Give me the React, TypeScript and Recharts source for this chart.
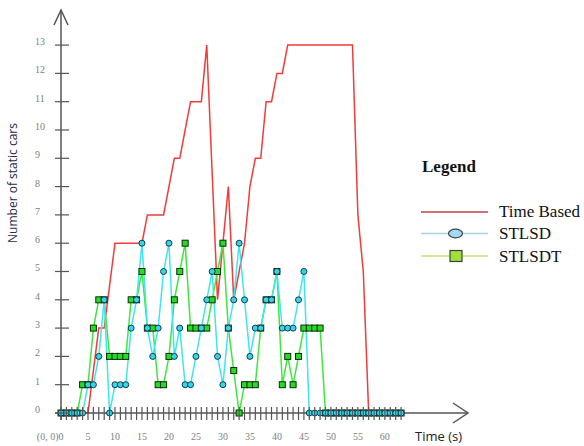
import React from 'react';
import { LineChart, Line, XAxis, YAxis, Legend } from 'recharts';

// time in seconds
const times = [
  0, 1, 2, 3, 4, 5, 6, 7, 8, 9, 10, 11, 12, 13, 14, 15, 16, 17, 18, 19, 20,
  21, 22, 23, 24, 25, 26, 27, 28, 29, 30, 31, 32, 33, 34, 35, 36, 37, 38, 39, 40,
  41, 42, 43, 44, 45, 46, 47, 48, 49, 50, 51, 52, 53, 54, 55, 56, 57, 58, 59, 60,
  61, 62, 63,
];

// Time Based (t = 0..57)
const timeBased = [
  0, 0, 0, 0, 0, 0, 1.5, 3, 3, 4.5, 6, 6, 6, 6, 6, 6, 7, 7, 7, 7, 8,
  9, 9, 10, 11, 11, 11, 13, 8.5, 4, 6, 8, 4, 5, 6, 8, 9, 9, 11, 11, 12,
  12, 13, 13, 13, 13, 13, 13, 13, 13, 13, 13, 13, 13, 13, 7, 5, 0,
];

// STLSD (t = 0..63)
const stlsd = [
  0, 0, 0, 0, 0, 1, 1, 2, 4, 0, 1, 1, 1, 3, 4, 6, 3, 2, 3, 5, 6,
  2, 3, 1, 1, 2, 3, 4, 5, 2, 1, 3, 4, 6, 4, 2, 3, 3, 4, 4, 5,
  3, 3, 3, 4, 5, 0, 0, 0, 0, 0, 0, 0, 0, 0, 0, 0, 0, 0, 0, 0,
  0, 0, 0,
];

// STLSDT (t = 0..63)
const stlsdt = [
  0, 0, 0, 0, 1, 1, 3, 4, 4, 2, 2, 2, 2, 4, 4, 5, 3, 3, 1, 1, 2,
  4, 5, 6, 3, 3, 3, 3, 4, 5, 6, 3, 1.5, 0, 1, 1, 1, 3, 4, 4, 5,
  1, 2, 1, 2, 3, 3, 3, 3, 0, 0, 0, 0, 0, 0, 0, 0, 0, 0, 0, 0,
  0, 0, 0,
];

const yTicks = [0, 1, 2, 3, 4, 5, 6, 7, 8, 9, 10, 11, 12, 13];
const xLabelStep = 5;
const seriesNames = ['Time Based', 'STLSD', 'STLSDT'];
const xTitle = 'Time (s)';
const yTitle = 'Number of static cars';

const data = times.map((t, i) => ({
  t,
  timeBased: i < timeBased.length ? timeBased[i] : null,
  stlsd: stlsd[i],
  stlsdt: stlsdt[i],
}));

const AXIS = '#555555';
const LABEL = '#808080';

const XTick = (props: any) => {
  const { x, y, payload } = props;
  const v = payload.value;
  const show = v % xLabelStep === 0;
  return (
    <g>
      <line x1={x} x2={x} y1={y - 6} y2={y + 7} stroke={AXIS} strokeWidth={1.2} />
      {show && (
        <text
          x={v === 0 ? x + 2.5 : x}
          y={y + 27}
          textAnchor={v === 0 ? 'end' : 'middle'}
          fontFamily="Liberation Serif"
          fontSize={10}
          fill={LABEL}
        >
          {v === 0 ? '(0, 0)0' : v}
        </text>
      )}
    </g>
  );
};

const YTick = (props: any) => {
  const { x, y, payload } = props;
  return (
    <g>
      <line x1={x - 6} x2={x + 8} y1={y} y2={y} stroke={AXIS} strokeWidth={1.2} />
      <text x={x - 26} y={y} fontFamily="Liberation Serif" fontSize={10} fill={LABEL}>
        {payload.value}
      </text>
    </g>
  );
};

const XAxisDecor = (props: any) => {
  const { x, y, width } = props.viewBox;
  const end = x + width;
  return (
    <g>
      <line x1={x - 6} y1={y} x2={end} y2={y} stroke={AXIS} strokeWidth={1.5} />
      <polyline
        points={`${end - 15},${y - 10} ${end},${y} ${end - 15},${y + 10}`}
        fill="none"
        stroke={AXIS}
        strokeWidth={1.5}
      />
      <text x={end - 53} y={y + 28} fontFamily="Open Sans" fontSize={13} fill="#222">
        {xTitle}
      </text>
    </g>
  );
};

const YAxisDecor = (props: any) => {
  const { x, y, width, height } = props.viewBox;
  const ax = x + width;
  return (
    <g>
      <line x1={ax} y1={y + height + 7} x2={ax} y2={y} stroke={AXIS} strokeWidth={1.5} />
      <polyline
        points={`${ax - 7},${y + 15} ${ax},${y} ${ax + 7},${y + 15}`}
        fill="none"
        stroke={AXIS}
        strokeWidth={1.5}
      />
      <text
        transform={`translate(${x + 17}, ${y + 173}) rotate(-90)`}
        textAnchor="middle"
        fontFamily="Open Sans"
        fontSize={12}
        fill="#2a2a48"
      >
        {yTitle}
      </text>
    </g>
  );
};

const SquareDot = (props: any) => {
  const { cx, cy, index } = props;
  if (cx == null || cy == null) return <g key={`sq-${index}`} />;
  return (
    <rect
      key={`sq-${index}`}
      x={cx - 3}
      y={cy - 3}
      width={6}
      height={6}
      fill="#22dd22"
      stroke="#0b2b0b"
      strokeWidth={1}
    />
  );
};

const LegendBox = () => (
  <svg width={169} height={120}>
    <text x={7} y={22} fontFamily="Liberation Serif" fontWeight="bold" fontSize={17} fill="#111">
      Legend
    </text>
    <line x1={6} x2={73} y1={62} y2={62} stroke="#c0404c" strokeWidth={1.3} />
    <text x={84} y={66.5} fontFamily="Liberation Serif" fontSize={17} fill="#111">
      {seriesNames[0]}
    </text>
    <line x1={6} x2={73} y1={83.5} y2={83.5} stroke="#a8d4e6" strokeWidth={1.3} />
    <ellipse cx={40.5} cy={83.5} rx={7} ry={4.3} fill="#a4d8ee" stroke="#3a4450" strokeWidth={1.2} />
    <text x={84} y={88.6} fontFamily="Liberation Serif" fontSize={17} fill="#111">
      {seriesNames[1]}
    </text>
    <line x1={6} x2={73} y1={106} y2={106} stroke="#c8e07a" strokeWidth={1.3} />
    <rect x={35} y={100.5} width={12} height={11} fill="#9fe03a" stroke="#404040" strokeWidth={1.2} />
    <text x={84} y={111.6} fontFamily="Liberation Serif" fontSize={17} fill="#111">
      {seriesNames[2]}
    </text>
  </svg>
);

export default function App() {
  return (
    <div style={{ position: 'absolute', left: 0, top: 0, width: 584, height: 446 }}>
      <LineChart
        width={584}
        height={446}
        data={data}
        margin={{ top: 10, right: 116, bottom: 3, left: 0 }}
      >
        <XAxis
          dataKey="t"
          type="number"
          domain={[0, 75.4]}
          ticks={times}
          interval={0}
          axisLine={false}
          tickLine={false}
          tickSize={0}
          tickMargin={0}
          height={30}
          tick={<XTick />}
          label={{ content: XAxisDecor } as any}
        />
        <YAxis
          type="number"
          domain={[0, 14.24]}
          ticks={yTicks}
          interval={0}
          axisLine={false}
          tickLine={false}
          tickSize={0}
          tickMargin={0}
          width={61}
          tick={<YTick />}
          label={{ content: YAxisDecor } as any}
        />
        <Legend
          layout="vertical"
          align="center"
          verticalAlign="middle"
          content={<LegendBox />}
          wrapperStyle={{ position: 'absolute', left: 415, top: 150, width: 169, height: 120 }}
        />
        <Line
          name={seriesNames[0]}
          type="linear"
          dataKey="timeBased"
          stroke="#f43a3a"
          strokeWidth={1.5}
          dot={false}
          isAnimationActive={false}
        />
        <Line
          name={seriesNames[2]}
          type="linear"
          dataKey="stlsdt"
          stroke="#3de83d"
          strokeWidth={1.5}
          dot={SquareDot}
          isAnimationActive={false}
        />
        <Line
          name={seriesNames[1]}
          type="linear"
          dataKey="stlsd"
          stroke="#3fe6ef"
          strokeWidth={1.5}
          dot={{ r: 3, fill: '#36d6e8', stroke: '#0e3b48', strokeWidth: 1 }}
          isAnimationActive={false}
        />
      </LineChart>
    </div>
  );
}
